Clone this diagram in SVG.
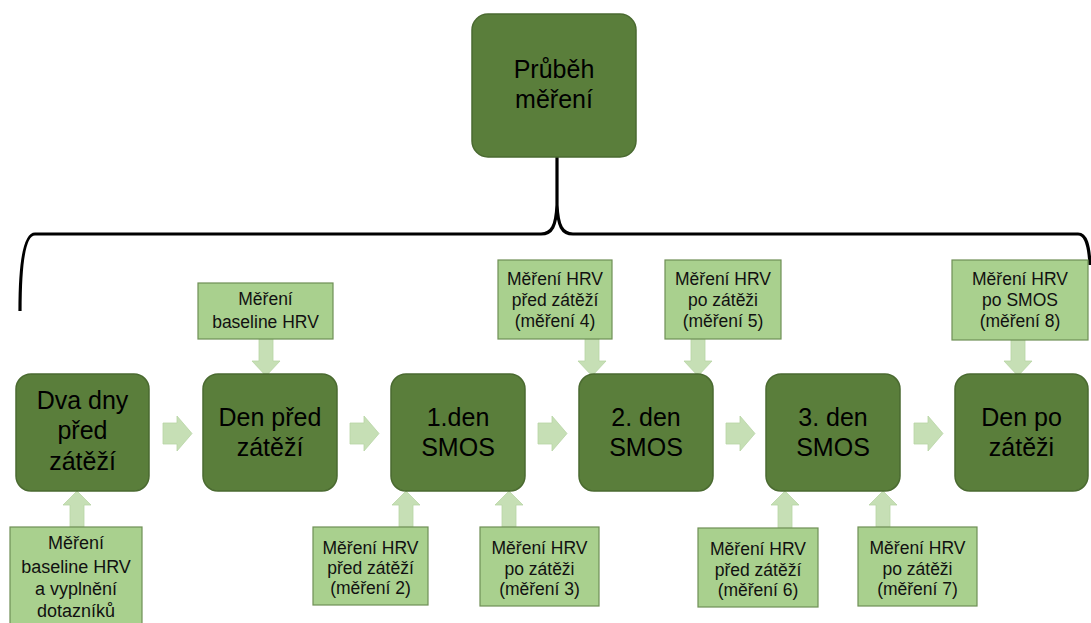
<svg xmlns="http://www.w3.org/2000/svg" width="1091" height="623" viewBox="0 0 1091 623">
<defs>
<style>
.main{fill:#5a7e3b;stroke:#4a6a30;stroke-width:1.5}
.call{fill:#a9d08e;stroke:#6f8f55;stroke-width:1.2}
.arr{fill:#c6dfb5;stroke:#b8d4a4;stroke-width:0.8}
.mt{font-family:"Liberation Sans",Arial,sans-serif;font-size:25px;fill:#000;text-anchor:middle}
.ct{font-family:"Liberation Sans",Arial,sans-serif;font-size:17.5px;fill:#111;text-anchor:middle}
.brace{fill:none;stroke:#000;stroke-width:3.2;stroke-linecap:butt}
</style>
</defs>
<rect width="1091" height="623" fill="#fff"/>

<g id="connectors">
<path class="brace" d="M20,311 C20,270 23,234 35,234 L541,234 C552,234 556,226 557,205 L557,157 M557,205 C558,226 562,234 573,234 L1078,234 C1086,234 1089,245 1090,265"/>
<path class="arr" d="M163,423 H177 V416 L192,433.5 L177,451 V444 H163 Z"/>
<path class="arr" d="M350,423 H364 V416 L379,433.5 L364,451 V444 H350 Z"/>
<path class="arr" d="M538,423 H552 V416 L567,433.5 L552,451 V444 H538 Z"/>
<path class="arr" d="M726,423 H740 V416 L755,433.5 L740,451 V444 H726 Z"/>
<path class="arr" d="M914,423 H928 V416 L943,433.5 L928,451 V444 H914 Z"/>
<path class="arr" d="M259,339 V361 H252 L266,376 L280,361 H273 V339 Z"/>
<path class="arr" d="M585,339 V361 H578 L592,376 L606,361 H599 V339 Z"/>
<path class="arr" d="M691,339 V361 H684 L698,376 L712,361 H705 V339 Z"/>
<path class="arr" d="M1011,340 V361 H1004 L1018,376 L1032,361 H1025 V340 Z"/>
<path class="arr" d="M70,527 V505 H63 L77,491 L91,505 H84 V527 Z"/>
<path class="arr" d="M399,527 V505 H392 L406,491 L420,505 H413 V527 Z"/>
<path class="arr" d="M502,527 V505 H495 L509,491 L523,505 H516 V527 Z"/>
<path class="arr" d="M778,528 V505 H771 L785,491 L799,505 H792 V528 Z"/>
<path class="arr" d="M876,527 V505 H869 L883,491 L897,505 H890 V527 Z"/>
</g>

<g id="top">
<rect class="main" x="472" y="14" width="164" height="143" rx="16"/>
<text class="mt" x="554" y="78">Průběh</text>
<text class="mt" x="554" y="108">měření</text>
</g>

<g id="n1">
<rect class="main" x="16" y="374" width="133" height="117" rx="15"/>
<text class="mt" x="82.5" y="409">Dva dny</text>
<text class="mt" x="82.5" y="439">před</text>
<text class="mt" x="82.5" y="470">zátěží</text>
</g>
<g id="n2">
<rect class="main" x="203" y="374" width="134" height="117" rx="15"/>
<text class="mt" x="270" y="426">Den před</text>
<text class="mt" x="270" y="456">zátěží</text>
</g>
<g id="n3">
<rect class="main" x="391" y="374" width="134" height="117" rx="15"/>
<text class="mt" x="458" y="426">1.den</text>
<text class="mt" x="458" y="456">SMOS</text>
</g>
<g id="n4">
<rect class="main" x="579" y="374" width="134" height="117" rx="15"/>
<text class="mt" x="646" y="426">2. den</text>
<text class="mt" x="646" y="456">SMOS</text>
</g>
<g id="n5">
<rect class="main" x="766" y="374" width="134" height="117" rx="15"/>
<text class="mt" x="833" y="426">3. den</text>
<text class="mt" x="833" y="456">SMOS</text>
</g>
<g id="n6">
<rect class="main" x="955" y="374" width="133" height="117" rx="15"/>
<text class="mt" x="1021.5" y="426">Den po</text>
<text class="mt" x="1021.5" y="456">zátěži</text>
</g>

<g id="c0">
<rect class="call" x="10" y="527" width="132" height="100"/>
<text class="ct" x="76" y="549" style="font-size:18px">Měření</text>
<text class="ct" x="76" y="573" style="font-size:18px">baseline HRV</text>
<text class="ct" x="76" y="595" style="font-size:18px">a vyplnění</text>
<text class="ct" x="76" y="617" style="font-size:18px">dotazníků</text>
</g>
<g id="c1">
<rect class="call" x="198" y="283" width="135" height="56"/>
<text class="ct" x="265.5" y="305">Měření</text>
<text class="ct" x="265.5" y="328">baseline HRV</text>
</g>
<g id="c2">
<rect class="call" x="313" y="527" width="115" height="78"/>
<text class="ct" x="370.5" y="554">Měření HRV</text>
<text class="ct" x="370.5" y="574">před zátěží</text>
<text class="ct" x="370.5" y="594">(měření 2)</text>
</g>
<g id="c3">
<rect class="call" x="480" y="527" width="119" height="79"/>
<text class="ct" x="539.5" y="554">Měření HRV</text>
<text class="ct" x="539.5" y="575">po zátěži</text>
<text class="ct" x="539.5" y="595">(měření 3)</text>
</g>
<g id="c4">
<rect class="call" x="498" y="260" width="114" height="79"/>
<text class="ct" x="555" y="285">Měření HRV</text>
<text class="ct" x="555" y="306">před zátěží</text>
<text class="ct" x="555" y="327">(měření 4)</text>
</g>
<g id="c5">
<rect class="call" x="665" y="260" width="116" height="79"/>
<text class="ct" x="723" y="285">Měření HRV</text>
<text class="ct" x="723" y="306">po zátěži</text>
<text class="ct" x="723" y="327">(měření 5)</text>
</g>
<g id="c6">
<rect class="call" x="698" y="528" width="120" height="79"/>
<text class="ct" x="758" y="555">Měření HRV</text>
<text class="ct" x="758" y="576">před zátěží</text>
<text class="ct" x="758" y="596">(měření 6)</text>
</g>
<g id="c7">
<rect class="call" x="858" y="527" width="119" height="79"/>
<text class="ct" x="917.5" y="554">Měření HRV</text>
<text class="ct" x="917.5" y="575">po zátěži</text>
<text class="ct" x="917.5" y="595">(měření 7)</text>
</g>
<g id="c8">
<rect class="call" x="952" y="260" width="136" height="80"/>
<text class="ct" x="1020" y="285">Měření HRV</text>
<text class="ct" x="1020" y="306">po SMOS</text>
<text class="ct" x="1020" y="327">(měření 8)</text>
</g>
</svg>
